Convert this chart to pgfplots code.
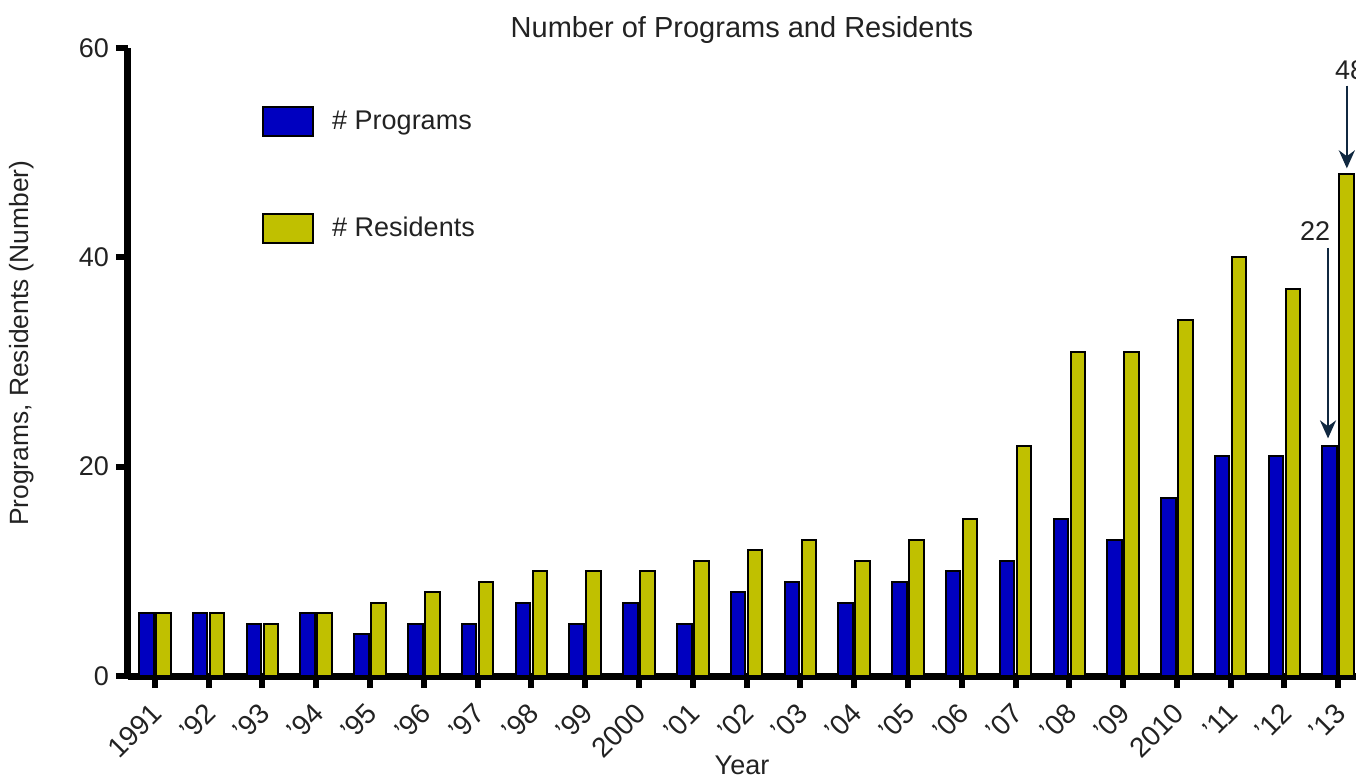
\documentclass[border=0pt]{standalone}
\usepackage{fontspec}
\setmainfont{Liberation Sans}
\usepackage{pgfplots}
\pgfplotsset{compat=1.18}
\usetikzlibrary{arrows.meta}
\definecolor{progblue}{RGB}{0,0,192}
\definecolor{resyel}{RGB}{192,192,0}
\definecolor{annot}{RGB}{16,40,64}
\definecolor{txt}{RGB}{34,34,34}

\begin{document}
\begin{tikzpicture}
\begin{axis}[
  name=ax,
  scale only axis,
  width=614pt, height=314pt,
  xmin=-0.5, xmax=22.33,
  ymin=0, ymax=60,
  ytick={0,20,40,60},
  xtick={0,...,22},
  xticklabels={1991,'92,'93,'94,'95,'96,'97,'98,'99,2000,'01,'02,'03,'04,'05,'06,'07,'08,'09,2010,'11,'12,'13},
  axis lines=left,
  axis line style={-, line width=3.5pt},
  tick align=outside,
  major tick length=6pt,
  tick style={line width=3pt, black},
  /pgf/number format/assume math mode=true,
  tick label style={font=\fontsize{13.5pt}{16pt}\selectfont, text=txt},
  % shifts are in the rotated frame
  x tick label style={rotate=45, anchor=north east, inner sep=1pt, xshift=-5.3pt, yshift=-1.8pt,
    font=\fontsize{14pt}{16pt}\selectfont},
  title={Number of Programs and Residents},
  title style={at={(axis description cs:0.5,1)}, anchor=center, yshift=3pt,
    font=\fontsize{14.5pt}{17pt}\selectfont, text=txt},
  xlabel={Year},
  xlabel style={at={(axis description cs:0.5,0)}, anchor=center, yshift=-44.5pt,
    font=\fontsize{13.5pt}{16pt}\selectfont, text=txt},
  ylabel={Programs, Residents (Number)},
  ylabel style={at={(axis description cs:-0.0863,0.53)}, anchor=center, xshift=0pt, yshift=0pt,
    font=\fontsize{13.2pt}{16pt}\selectfont, text=txt},
  legend style={at={(rel axis cs:0.109,0.908)}, anchor=north west, draw=none, fill=none,
    inner sep=0pt, row sep=38pt, column sep=9pt,
    font=\fontsize{13.5pt}{16pt}\selectfont, text=txt,
    nodes={inner sep=0pt, anchor=west}},
  clip=false,
]
\addplot[ybar, bar width=0.27, bar shift=-0.158, fill=progblue, draw=black, line width=1pt,
  legend image code/.code={\draw[fill=progblue, draw=black, line width=1pt] (0pt,-7.25pt) rectangle (25pt,7.25pt);}]
coordinates {
(0,6) (1,6) (2,5) (3,6) (4,4) (5,5) (6,5) (7,7) (8,5) (9,7) (10,5) (11,8)
(12,9) (13,7) (14,9) (15,10) (16,11) (17,15) (18,13) (19,17) (20,21) (21,21) (22,22)
};
\addlegendentry{\# Programs}
\addplot[ybar, bar width=0.27, bar shift=0.158, fill=resyel, draw=black, line width=1pt,
  legend image code/.code={\draw[fill=resyel, draw=black, line width=1pt] (0pt,-7.25pt) rectangle (25pt,7.25pt);}]
coordinates {
(0,6) (1,6) (2,5) (3,6) (4,7) (5,8) (6,9) (7,10) (8,10) (9,10) (10,11) (11,12)
(12,13) (13,11) (14,13) (15,15) (16,22) (17,31) (18,31) (19,34) (20,40) (21,37) (22,48)
};
\addlegendentry{\# Residents}
% annotations
\node[text=txt, font=\fontsize{13.5pt}{16pt}\selectfont] at (axis cs:21.57,42.5) {22};
\draw[annot, line width=1.2pt, -{Stealth[length=9pt,width=8pt]}] (axis cs:21.81,40.9) -- (axis cs:21.81,22.7);
\node[text=txt, font=\fontsize{13.5pt}{16pt}\selectfont] at (axis cs:22.22,57.9) {48};
\draw[annot, line width=1.2pt, -{Stealth[length=9pt,width=8pt]}] (axis cs:22.16,56.4) -- (axis cs:22.16,48.5);
\end{axis}
\pgfresetboundingbox
\path[use as bounding box] ([xshift=-64pt,yshift=-51pt]ax.south west) rectangle ([yshift=24pt]ax.north east);
\end{tikzpicture}
\end{document}
